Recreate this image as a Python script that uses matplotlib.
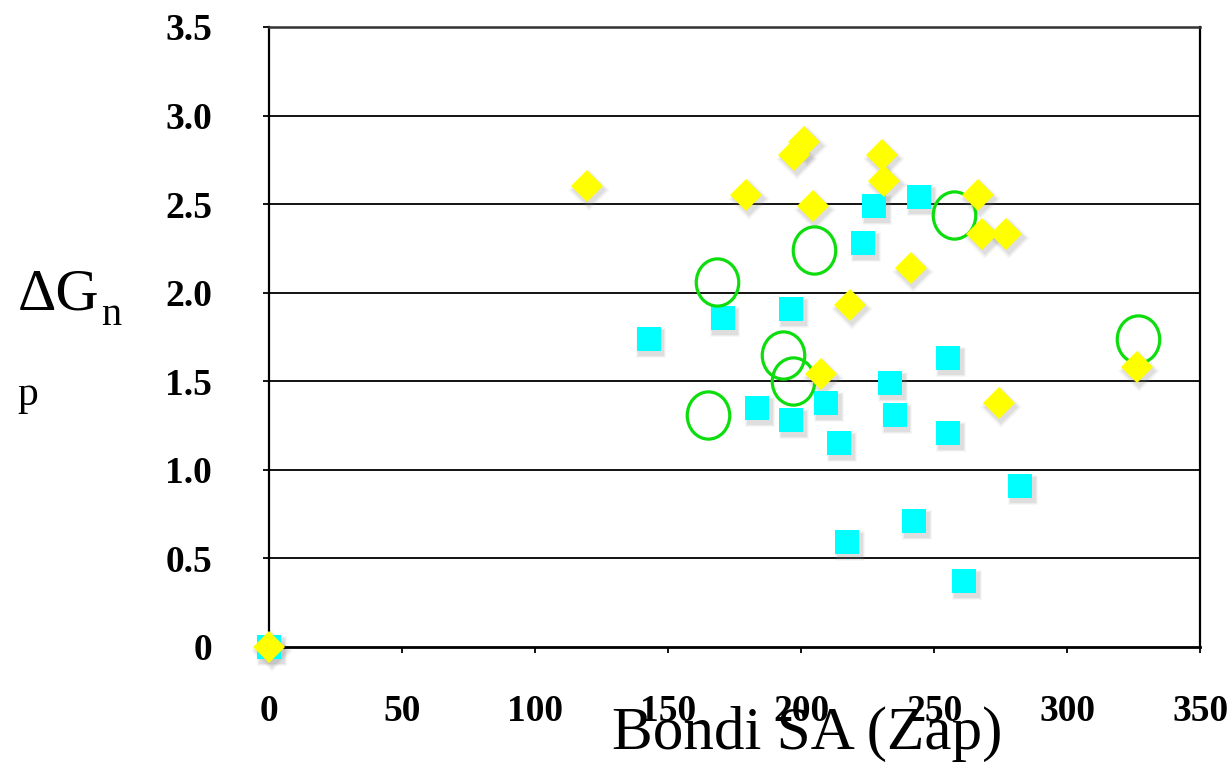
import matplotlib
matplotlib.use('Agg')
import matplotlib.pyplot as plt
from matplotlib.path import Path
from matplotlib.transforms import Affine2D, offset_copy

# data
yellow_x = [0, 119.5, 179.5, 197.5, 201.3, 204.4, 230.3, 231.3, 266.4, 268.2, 277.2, 241.3, 218.4, 207.5, 274.4, 326.3]
yellow_y = [0, 2.60, 2.55, 2.78, 2.85, 2.49, 2.78, 2.63, 2.55, 2.33, 2.33, 2.14, 1.93, 1.54, 1.38, 1.58]

cyan_x = [0, 142.7, 170.5, 196.4, 227.6, 244.5, 223.4, 255.4, 233.6, 183.6, 196.4, 209.5, 214.4, 235.3, 255.4, 282.4, 242.6, 217.3, 261.4]
cyan_y = [0, 1.74, 1.86, 1.91, 2.49, 2.54, 2.28, 1.63, 1.49, 1.35, 1.28, 1.38, 1.15, 1.31, 1.21, 0.91, 0.71, 0.59, 0.37]

green_x = [168.3, 204.9, 257.5, 193.3, 196.9, 164.9, 326.8]
green_y = [2.06, 2.24, 2.44, 1.65, 1.50, 1.31, 1.74]

x_ticks = [0, 50, 100, 150, 200, 250, 300, 350]
y_ticks = [0, 0.5, 1.0, 1.5, 2.0, 2.5, 3.0, 3.5]
y_tick_labels = ['0', '0.5', '1.0', '1.5', '2.0', '2.5', '3.0', '3.5']

plt.rcParams['font.family'] = ['Liberation Serif', 'DejaVu Serif']

fig = plt.figure(figsize=(12.3, 7.63), dpi=100)
ax = fig.add_axes([269 / 1230, 1 - 647 / 763, (1200 - 269) / 1230, (647 - 27) / 763])

ax.set_xlim(0, 350)
ax.set_ylim(0, 3.5)

# horizontal grid lines
for v in y_ticks[1:-1]:
    ax.axhline(v, color='black', lw=1.3, zorder=1)

# soft drop shadows for squares and diamonds
shadow = offset_copy(ax.transData, fig=fig, x=2.5, y=-4, units='dots')
for extra, a in [(5, 0.06), (3, 0.09), (1, 0.13)]:
    ax.plot(cyan_x, cyan_y, 's', ms=17.3 + extra, color='gray', alpha=a, mew=0,
            transform=shadow, clip_on=False, zorder=2)
    ax.plot(yellow_x, yellow_y, 'D', ms=16.3 + extra, color='gray', alpha=a, mew=0,
            transform=shadow, clip_on=False, zorder=2)

ax.plot(cyan_x, cyan_y, 's', ms=17.3, color='#00ffff', mew=0, clip_on=False, zorder=3)

ellipse = Affine2D().scale(0.9, 1.0).transform_path(Path.unit_circle())
ax.plot(green_x, green_y, linestyle='none', marker=ellipse, ms=34, mfc='none',
        mec='#0ddd0d', mew=2.3, zorder=4)

ax.plot(yellow_x, yellow_y, 'D', ms=16.3, color='#ffff00', mew=0, clip_on=False, zorder=5)

for s in ['left', 'right']:
    ax.spines[s].set_linewidth(1.6)
ax.spines['bottom'].set_linewidth(2.0)
ax.spines['top'].set_linewidth(1.8)
ax.spines['top'].set_color('#333333')

ax.set_xticks(x_ticks)
ax.set_yticks(y_ticks)
ax.set_yticklabels(y_tick_labels)
ax.tick_params(axis='y', direction='out', length=4, width=1.3, pad=37, labelsize=27)
ax.tick_params(axis='x', direction='out', length=4, width=1.3, pad=30, labelsize=27)
for lab in ax.get_xticklabels() + ax.get_yticklabels():
    lab.set_fontweight('bold')

fig.text(807 / 1230, 1 - 749 / 763, 'Bondi SA (Zap)', fontsize=44, ha='center', va='baseline')
fig.text(18 / 1230, 1 - 309 / 763, 'ΔG', fontsize=43, ha='left', va='baseline')
fig.text(101 / 1230, 1 - 325 / 763, 'n', fontsize=29, ha='left', va='baseline')
fig.text(17 / 1230, 1 - 405 / 763, 'p', fontsize=30, ha='left', va='baseline')

fig.savefig('out.png', dpi=100)
